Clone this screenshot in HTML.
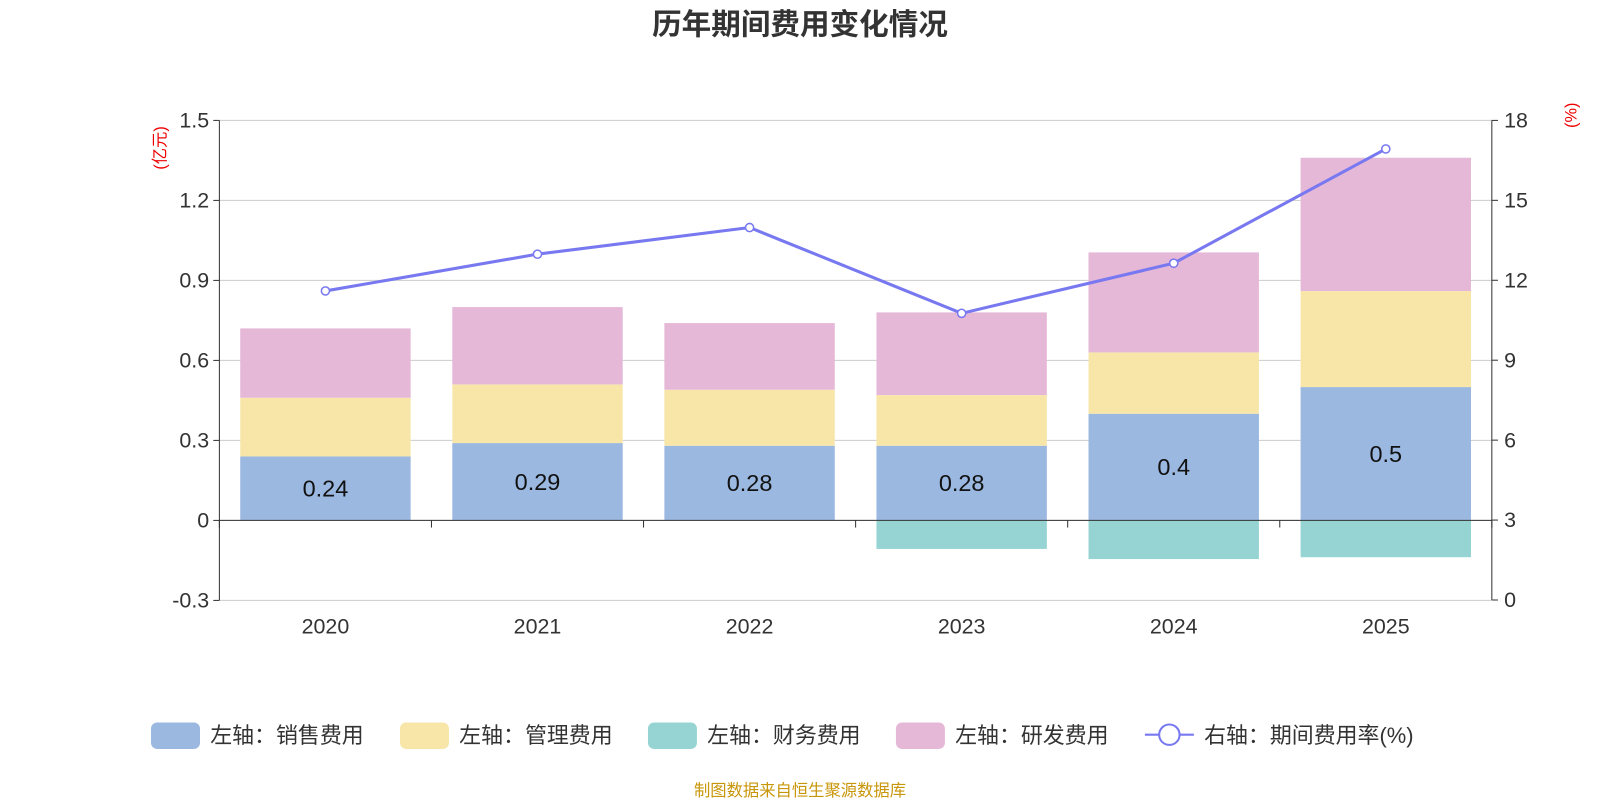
<!DOCTYPE html>
<html><head><meta charset="utf-8">
<style>
body{margin:0;background:#fff;}
svg{display:block;font-family:"Liberation Sans","Noto Sans CJK SC",sans-serif;}
</style></head>
<body>
<svg id="chart" width="1600" height="800">
<g transform="scale(1.020408)">
<text x="784" y="34" text-anchor="middle" font-size="29" font-weight="bold" fill="#333">历年期间费用变化情况</text>
<g id="grid"></g>
<g id="bars"></g>
<g id="axes"></g>
<g id="line"></g>
<text transform="translate(162,145) rotate(-90)" text-anchor="middle" font-size="16" fill="#e00">(亿元)</text>
<text transform="translate(1545,113) rotate(-90)" text-anchor="middle" font-size="16" fill="#e00">(%)</text>
<g id="legend"></g>
<text x="784" y="780" text-anchor="middle" font-size="16" fill="#c8960a">制图数据来自恒生聚源数据库</text>
</g>
</svg>
<script>
const years=['2020','2021','2022','2023','2024','2025'];
const sales=[0.24,0.29,0.28,0.28,0.4,0.5];
const mgmt=[0.22,0.22,0.21,0.19,0.23,0.36];
const finance=[0,0,0,-0.107,-0.145,-0.138];
const research=[0.26,0.29,0.25,0.31,0.375,0.50];
const rate=[11.6,12.98,13.98,10.76,12.64,16.93];
const leftTicks=[-0.3,0,0.3,0.6,0.9,1.2,1.5];
const rightTicks=[0,3,6,9,12,15,18];
const NS='http://www.w3.org/2000/svg';
const X0=215,X1=1462,band=(X1-X0)/years.length,barW=167;
const yL=v=>510-v*(392/1.5);
const yR=v=>588-v*(470/18);
const xC=i=>X0+band*(i+0.5);
function mk(p,tag,at){const e=document.createElementNS(NS,tag);for(const k in at)e.setAttribute(k,at[k]);p.appendChild(e);return e;}
const grid=document.getElementById('grid'),axes=document.getElementById('axes'),bars=document.getElementById('bars'),line=document.getElementById('line'),legend=document.getElementById('legend');
leftTicks.forEach((t,i)=>{
  const y=yL(t);
  const g=mk(grid,'line',{x1:X0,x2:X1,y1:y,y2:y,stroke:'#ccc','stroke-width':1});
  
  
  const tk=mk(axes,'line',{x1:X0-6,x2:X0,y1:y,y2:y,stroke:'#333'});
  
  
  const tx=mk(axes,'text',{x:X0-10,y:y+7,'text-anchor':'end','font-size':21,fill:'#333'});
  tx.textContent=String(t);
  
  
});
rightTicks.forEach(t=>{
  const y=yR(t);
  const tk=mk(axes,'line',{x1:X1,x2:X1+6,y1:y,y2:y,stroke:'#333'});
  
  
  const tx=mk(axes,'text',{x:X1+12,y:y+7,'font-size':21,fill:'#333'});
  tx.textContent=String(t);
  
  
});
let a=mk(axes,'line',{x1:X0,x2:X0,y1:yL(1.5),y2:yL(-0.3),stroke:'#333'});

a=mk(axes,'line',{x1:X1,x2:X1,y1:yR(18),y2:yR(0),stroke:'#333'});

a=mk(axes,'line',{x1:X0,x2:X1,y1:yL(0),y2:yL(0),stroke:'#333'});

for(let i=0;i<=years.length;i++){
  const tk=mk(axes,'line',{x1:X0+band*i,x2:X0+band*i,y1:yL(0),y2:yL(0)+7,stroke:'#333'});
  
  
}
years.forEach((yr,i)=>{
  const tx=mk(axes,'text',{x:xC(i),y:621,'text-anchor':'middle','font-size':21,fill:'#333'});
  tx.textContent=yr;
  
  
  const x=xC(i)-barW/2;
  let base=0;
  [[sales,'#9bb8e0','sales-bar'],[mgmt,'#f8e6a8','mgmt-bar'],[research,'#e6b8d8','research-bar']].forEach(([arr,c,n])=>{
    const r=mk(bars,'rect',{x:x,y:yL(base+arr[i]),width:barW,height:yL(base)-yL(base+arr[i]),fill:c});
    
    
    base+=arr[i];
  });
  if(finance[i]<0){
    const r=mk(bars,'rect',{x:x,y:yL(0),width:barW,height:yL(finance[i])-yL(0),fill:'#96d4d4'});
    
    
  }
  const lb=mk(bars,'text',{x:xC(i),y:yL(sales[i]/2)+8,'text-anchor':'middle','font-size':23,fill:'#111'});
  lb.textContent=String(sales[i]);
  
  
});
const pts=rate.map((v,i)=>xC(i)+','+yR(v)).join(' ');
const pl=mk(line,'polyline',{points:pts,fill:'none',stroke:'#7878f0','stroke-width':3});


rate.forEach((v,i)=>{
  const c=mk(line,'circle',{cx:xC(i),cy:yR(v),r:4,fill:'#fff',stroke:'#7878f0','stroke-width':1.5});
  
  
});
const leg=[['左轴：销售费用','#9bb8e0',148],['左轴：管理费用','#f8e6a8',392],['左轴：财务费用','#96d4d4',635],['左轴：研发费用','#e6b8d8',878]];
leg.forEach(([t,c,x])=>{
  const g=mk(legend,'g',{});
  
  
  mk(g,'rect',{x:x,y:708,width:48,height:26,rx:6,fill:c});
  const tx=mk(g,'text',{x:x+58,y:728,'font-size':21.5,fill:'#333'});
  tx.textContent=t;
});
const g=mk(legend,'g',{});


mk(g,'line',{x1:1122,x2:1170,y1:720,y2:720,stroke:'#7878f0','stroke-width':2});
mk(g,'circle',{cx:1146,cy:720,r:10,fill:'#fff',stroke:'#7878f0','stroke-width':2});
const tx=mk(g,'text',{x:1180,y:728,'font-size':21.5,fill:'#333'});
tx.textContent='右轴：期间费用率(%)';
</script>
</body></html>
